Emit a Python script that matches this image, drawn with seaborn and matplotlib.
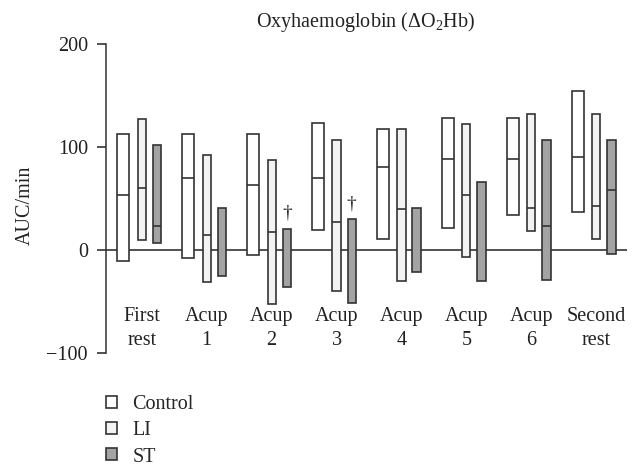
import numpy as np
import pandas as pd
import matplotlib
matplotlib.use('Agg')
import matplotlib.pyplot as plt
import seaborn as sns
from matplotlib.patches import Patch

# data (AUC/min)
groups = ['First\nrest', 'Acup\n1', 'Acup\n2', 'Acup\n3', 'Acup\n4', 'Acup\n5', 'Acup\n6', 'Second\nrest']
series = ['Control', 'LI', 'ST']

ctrl_low = [-10, -8, -5, 20, 11, 22, 34.5, 37]
ctrl_high = [113, 113, 113, 123, 117.5, 128, 128, 154]
ctrl_med = [54, 70, 63.5, 70, 80.5, 88, 88, 90]

li_low = [9.5, -30.5, -52, -40, -29.5, -7, 19, 11]
li_high = [127.5, 92, 87, 107, 117.5, 122.5, 132.5, 132.5]
li_med = [60, 14.5, 17.5, 27.5, 39.5, 53.5, 40.5, 43]

st_low = [7, -25.5, -35.5, -51, -21, -29.5, -29, -4]
st_high = [102, 40.5, 20.5, 30, 40.5, 66, 107, 107]
st_med = [23, np.nan, np.nan, np.nan, np.nan, np.nan, 23, 58.5]
st_mark = ['', '', '†', '†', '', '', '', '']

rows = []
for i, g in enumerate(groups):
    rows.append(dict(pos=i, group=g, series='Control', low=ctrl_low[i], high=ctrl_high[i], med=ctrl_med[i], mark=''))
    rows.append(dict(pos=i, group=g, series='LI', low=li_low[i], high=li_high[i], med=li_med[i], mark=''))
    rows.append(dict(pos=i, group=g, series='ST', low=st_low[i], high=st_high[i], med=st_med[i], mark=st_mark[i]))
df = pd.DataFrame(rows)

# style
sns.set_style('white')
plt.rcParams['font.family'] = ['Liberation Serif', 'DejaVu Serif']
plt.rcParams['mathtext.fontset'] = 'custom'
plt.rcParams['mathtext.rm'] = 'Liberation Serif'
plt.rcParams['mathtext.it'] = 'Liberation Serif:italic'
edge = '#333333'
colors = {'Control': '#ffffff', 'LI': '#f2f3f2', 'ST': '#a3a3a3'}
offsets = {'Control': -0.285, 'LI': 0.0, 'ST': 0.234}
widths = {'Control': 0.19, 'LI': 0.125, 'ST': 0.13}
fs = 14.5

fig = plt.figure(figsize=(6.39, 4.69), dpi=100)
ax = fig.add_axes([0.1659, 0.2467, 0.8149, 0.6595])

ax.axhline(0, color='#222222', lw=1.1, zorder=1)

for s in series:
    d = df[df['series'] == s]
    x = d['pos'] + offsets[s]
    ax.bar(x, d['high'] - d['low'], bottom=d['low'], width=widths[s],
           color=colors[s], edgecolor=edge, linewidth=1.2, zorder=2)
    ax.hlines(d['med'], x - widths[s] / 2, x + widths[s] / 2, color=edge, lw=1.2, zorder=3)
    for xi, hi, m in zip(x, d['high'], d['mark']):
        if m:
            ax.text(xi, hi + 7, m, ha='center', va='bottom', fontsize=14, color='#222222')

for i, g in enumerate(groups):
    ax.text(i, -76, g, ha='center', va='center', fontsize=fs, linespacing=1.3, color='#222222')

ax.set_xlim(-0.55, 7.469)
ax.set_ylim(-100, 200)
ax.set_xticks([])
ax.set_yticks([-100, 0, 100, 200])
ax.tick_params(axis='y', direction='out', length=6.5, width=1.1, pad=6.5,
               labelsize=fs, colors='#222222', left=True)
for sp in ['top', 'right', 'bottom']:
    ax.spines[sp].set_visible(False)
ax.spines['left'].set_color('#333333')
ax.spines['left'].set_linewidth(1.1)

fig.text(366 / 639, 1 - 22 / 469, r'Oxyhaemoglobin ($\Delta$O$_2$Hb)', ha='center', va='center',
         fontsize=fs, color='#222222')
fig.text(25 / 639, 1 - 205 / 469, 'AUC/min', rotation=90, ha='center', va='center',
         fontsize=fs, color='#222222')

handles = [Patch(facecolor=colors[s], edgecolor=edge, linewidth=1.2, label=s) for s in series]
fig.legend(handles=handles, loc='upper left', bbox_to_anchor=(106 / 639, 1 - 395 / 469),
           frameon=False, fontsize=fs, handlelength=0.55, handleheight=0.55,
           handletextpad=0.75, labelspacing=0.36, borderpad=0, borderaxespad=0)

fig.savefig('out.png', dpi=100)
